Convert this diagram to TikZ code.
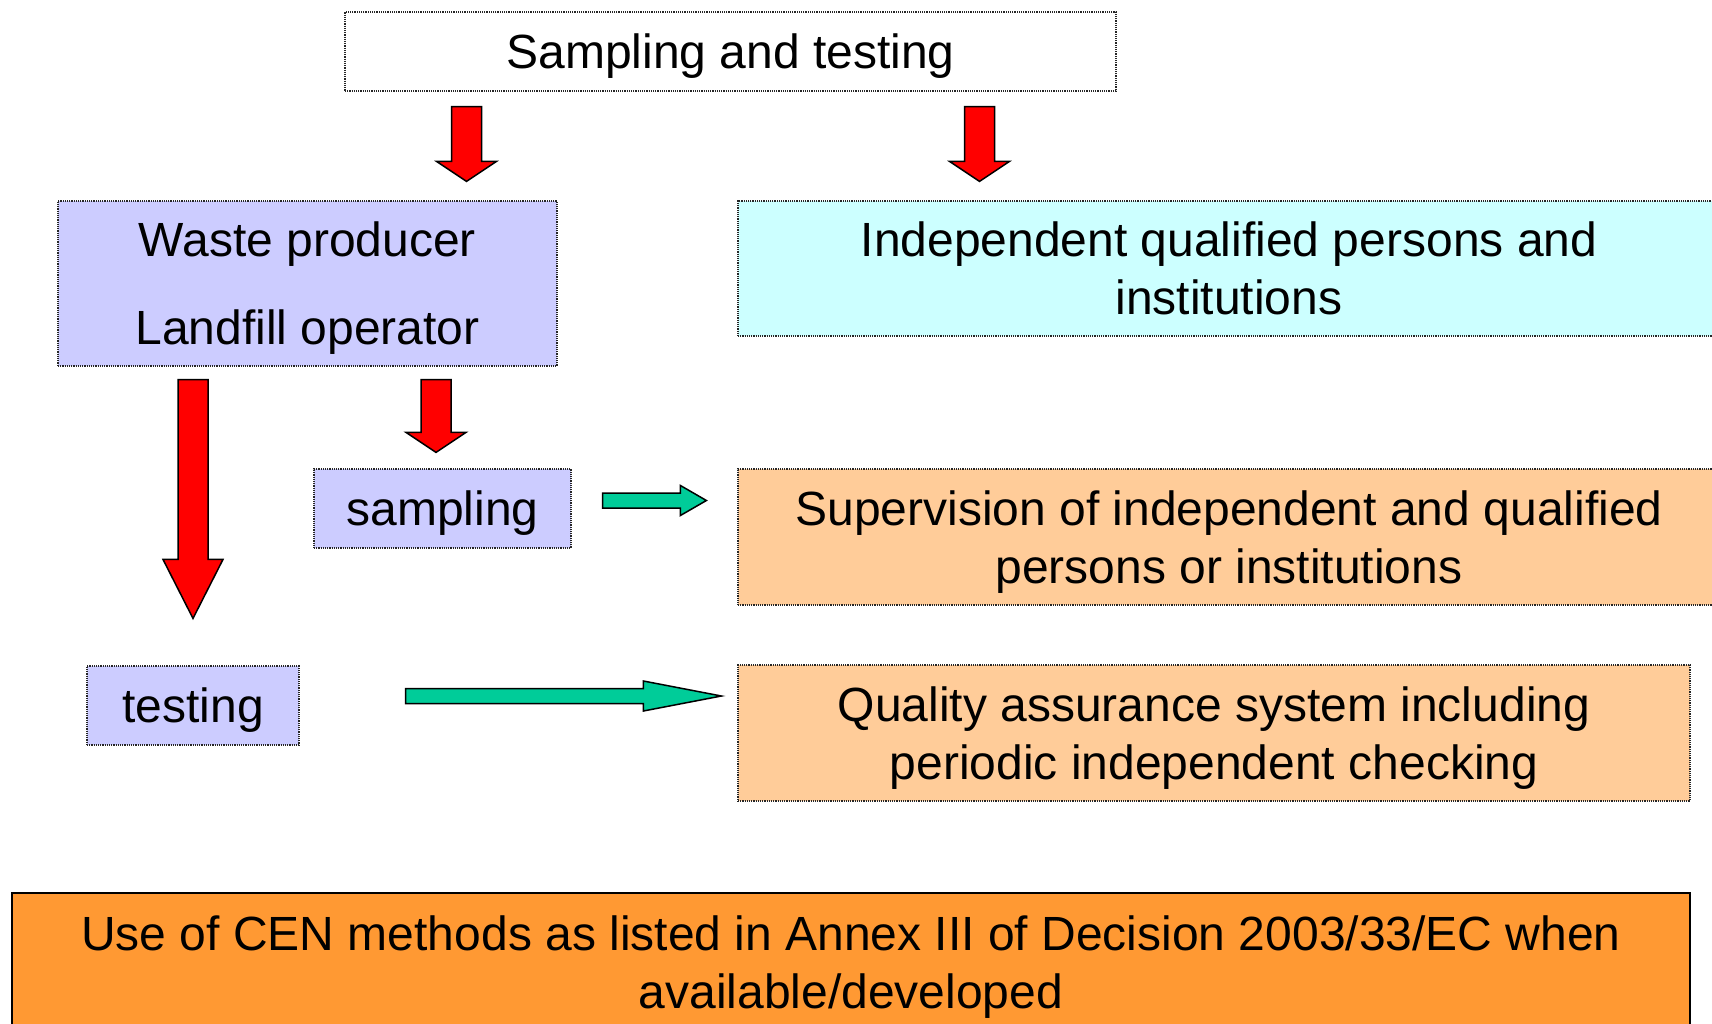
\documentclass[tikz,border=0pt]{standalone}
\usepackage{fontspec}
\setmainfont{Liberation Sans}
\usetikzlibrary{calc}

\definecolor{lavender}{RGB}{204,204,255}
\definecolor{paleaqua}{RGB}{204,255,255}
\definecolor{peach}{RGB}{255,204,153}
\definecolor{tangerine}{RGB}{255,153,51}
\definecolor{jade}{RGB}{0,204,153}

% block arrows: [style]{tail}{tip}{half shaft}{half head}{head length}
\newcommand{\downblock}[6][]{%
	\draw[#1] ($(#2)+(-#4,0)$) -- ($(#2)+(#4,0)$) -- ($(#3)+(#4,-#6)$) -- ($(#3)+(#5,-#6)$)
		-- (#3) -- ($(#3)+(-#5,-#6)$) -- ($(#3)+(-#4,-#6)$) -- cycle;}
\newcommand{\rightblock}[6][]{%
	\draw[#1] ($(#2)+(0,-#4)$) -- ($(#3)+(-#6,-#4)$) -- ($(#3)+(-#6,-#5)$)
		-- (#3) -- ($(#3)+(-#6,#5)$) -- ($(#3)+(-#6,#4)$) -- ($(#2)+(0,#4)$) -- cycle;}

\tikzset{
	box/.style={rectangle, inner sep=0pt, align=center, text depth=-6pt, font=\fontsize{48}{58}\selectfont},
	dotbox/.style={box, draw=black!85, densely dotted, line width=1.2pt},
	redblock/.style={fill=red, draw=black, line width=1.5pt, line join=miter},
	greenblock/.style={fill=jade, draw=black, line width=1.5pt, line join=miter}
}

\begin{document}
\begin{tikzpicture}[x=1pt,y=-1pt]
		\useasboundingbox (0,0) rectangle (1712,1024);

		\node[dotbox, minimum width=771, minimum height=79]					(top)	at (730.5,51.5)	{Sampling and testing};
		\node[dotbox, fill=lavender, minimum width=499, minimum height=165, text depth=-8pt]
																			(wp)	at (307.5,283.5)	{Waste producer\\[30pt]Landfill operator};
		\node[dotbox, fill=paleaqua, minimum width=982, minimum height=135]	(ind)	at (1229,268.5)	{Independent qualified persons and\\institutions};
		\node[dotbox, fill=lavender, minimum width=257, minimum height=79]	(samp)	at (442.5,508.5)	{sampling};
		\node[dotbox, fill=peach, minimum width=982, minimum height=136]	(sup)	at (1229,537)		{Supervision of independent and qualified\\persons or institutions};
		\node[dotbox, fill=lavender, minimum width=212, minimum height=79]	(test)	at (193,705.5)	{testing};
		\node[dotbox, fill=peach, minimum width=952, minimum height=136]	(qa)	at (1214,733)		{Quality assurance system including\\periodic independent checking};
		\node[box, draw=black, line width=2pt, fill=tangerine, minimum width=1678, minimum height=138, text depth=-2.5pt]
																			(cen)	at (851,962)		{Use of CEN methods as listed in Annex III of Decision 2003/33/EC when\\available/developed};

		\coordinate (r1s) at ($(top.south)+(-264,15)$);
		\coordinate (r1e) at ($(r1s |- wp.north)+(0,-19)$);
		\coordinate (r2s) at ($(top.south)+(249,15)$);
		\coordinate (r2e) at ($(r2s |- ind.north)+(0,-19)$);
		\coordinate (r3s) at ($(wp.south -| test.north)+(0,13)$);
		\coordinate (r3e) at ($(test.north)+(0,-47)$);
		\coordinate (r4s) at ($(wp.south)+(128.5,13)$);
		\coordinate (r4e) at ($(r4s |- samp.north)+(0,-16)$);
		\coordinate (g1s) at ($(samp.east)+(31,-8)$);
		\coordinate (g1e) at ($(g1s -| sup.west)+(-31,0)$);
		\coordinate (g2s) at ($(test.east)+(106,-9.5)$);
		\coordinate (g2e) at ($(g2s -| qa.west)+(-16,0)$);

		\downblock[redblock]{r1s}{r1e}{15}{30}{20}
		\downblock[redblock]{r2s}{r2e}{15}{30}{20}
		\downblock[redblock]{r3s}{r3e}{15}{30}{59}
		\downblock[redblock]{r4s}{r4e}{15}{30}{20}
		\rightblock[greenblock]{g1s}{g1e}{7.5}{15}{26}
		\rightblock[greenblock]{g2s}{g2e}{7.5}{15}{78}
	\end{tikzpicture}
\end{document}
